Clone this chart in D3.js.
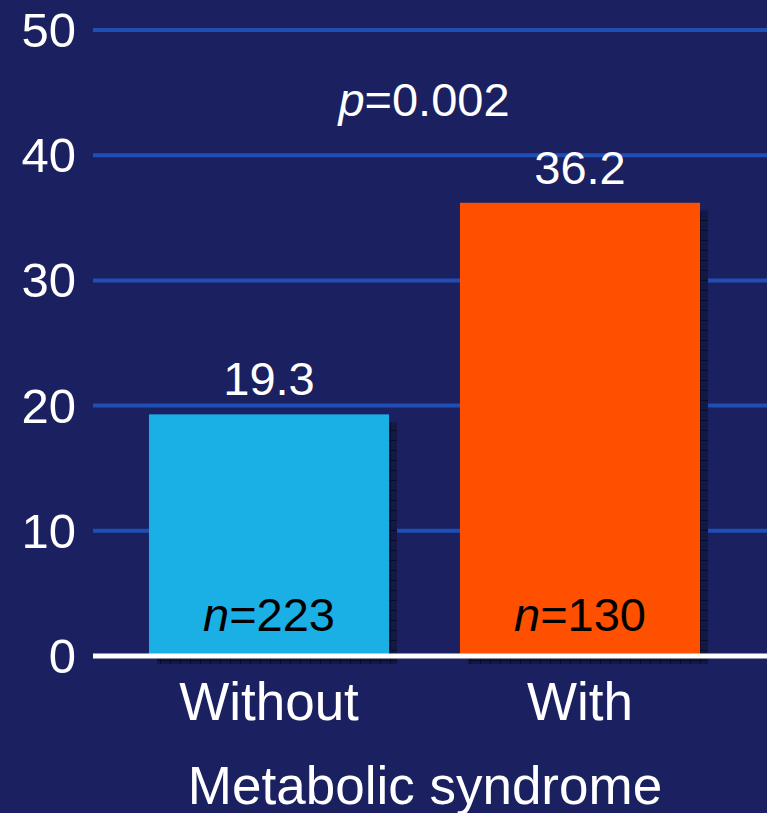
<!DOCTYPE html>
<html>
<head>
<meta charset="utf-8">
<script src="https://cdn.jsdelivr.net/npm/d3@7"></script>
<style>
  html, body { margin: 0; padding: 0; background: #1a2060; }
  svg { display: block; }
  text { font-family: "Liberation Sans", Arial, sans-serif; fill: #ffffff; }
</style>
</head>
<body>
<svg id="chart" width="767" height="813"></svg>
<script>
// Data
const categories = ["Without", "With"];
const values = [19.3, 36.2];
const sampleSizes = [223, 130];
const barColors = ["#1ab0e6", "#ff5000"];
const yTicks = [0, 10, 20, 30, 40, 50];
const pValue = "0.002";
const xTitle = "Metabolic syndrome";

const W = 767, H = 813;
const svg = d3.select("#chart");
svg.append("rect").attr("width", W).attr("height", H).attr("fill", "#1a2060");

// Hatched pattern used for the drop shadows
const defs = svg.append("defs");
const pat = defs.append("pattern")
  .attr("id", "shadowHatch")
  .attr("patternUnits", "userSpaceOnUse")
  .attr("width", 10).attr("height", 10);
pat.append("rect").attr("width", 10).attr("height", 10).attr("fill", "#131945");
pat.append("path").attr("d", "M0,0.5H10M0.5,0V10")
  .attr("stroke", "#080b2c").attr("stroke-width", 1.2);

const plotLeft = 93, plotRight = 767;
const y = d3.scaleLinear().domain([0, 50]).range([656, 30]);
const x = d3.scaleBand().domain(categories)
  .range([113.5, 735.5]).paddingInner(0.228).paddingOuter(0.114);

// Gridlines
svg.append("g").selectAll("line")
  .data(yTicks.filter(t => t > 0))
  .join("line")
  .attr("x1", plotLeft).attr("x2", plotRight)
  .attr("y1", d => y(d)).attr("y2", d => y(d))
  .attr("stroke", "#1f4eb4").attr("stroke-width", 4);

// Y tick labels
svg.append("g").selectAll("text")
  .data(yTicks)
  .join("text")
  .attr("x", 76).attr("y", d => y(d) + 17)
  .attr("text-anchor", "end")
  .attr("font-size", 49)
  .text(d => d);

// Bar shadows
const shadowOffset = 8;
svg.append("g").selectAll("rect")
  .data(categories)
  .join("rect")
  .attr("x", d => x(d) + shadowOffset)
  .attr("y", (d, i) => y(values[i]) + shadowOffset)
  .attr("width", x.bandwidth())
  .attr("height", (d, i) => y(0) - y(values[i]))
  .attr("fill", "url(#shadowHatch)");

// Bars
svg.append("g").selectAll("rect")
  .data(categories)
  .join("rect")
  .attr("x", d => x(d))
  .attr("y", (d, i) => y(values[i]))
  .attr("width", x.bandwidth())
  .attr("height", (d, i) => y(0) - y(values[i]))
  .attr("fill", (d, i) => barColors[i]);

// Baseline
svg.append("line")
  .attr("x1", plotLeft).attr("x2", plotRight)
  .attr("y1", y(0)).attr("y2", y(0))
  .attr("stroke", "#ffffff").attr("stroke-width", 5);

// Value labels
svg.append("g").selectAll("text")
  .data(categories)
  .join("text")
  .attr("x", d => x(d) + x.bandwidth() / 2)
  .attr("y", (d, i) => y(values[i]) - 19)
  .attr("text-anchor", "middle")
  .attr("font-size", 47)
  .text((d, i) => values[i].toFixed(1));

// Sample size labels
const nl = svg.append("g");
categories.forEach((c, i) => {
  const t = nl.append("text")
    .attr("x", x(c) + x.bandwidth() / 2)
    .attr("y", 631)
    .attr("text-anchor", "middle")
    .attr("font-size", 47)
    .style("fill", "#000000");
  t.append("tspan").attr("font-style", "italic").style("fill", "#000000").text("n");
  t.append("tspan").style("fill", "#000000").text("=" + sampleSizes[i]);
});

// p-value
const pt = svg.append("text")
  .attr("x", 424).attr("y", 116)
  .attr("text-anchor", "middle")
  .attr("font-size", 47);
pt.append("tspan").attr("font-style", "italic").text("p");
pt.append("tspan").text("=" + pValue);

// Category labels
svg.append("g").selectAll("text")
  .data(categories)
  .join("text")
  .attr("x", d => x(d) + x.bandwidth() / 2)
  .attr("y", 720)
  .attr("text-anchor", "middle")
  .attr("font-size", 53)
  .text(d => d);

// Axis title
svg.append("text")
  .attr("x", 425).attr("y", 804)
  .attr("text-anchor", "middle")
  .attr("font-size", 53)
  .text(xTitle);
</script>
</body>
</html>
